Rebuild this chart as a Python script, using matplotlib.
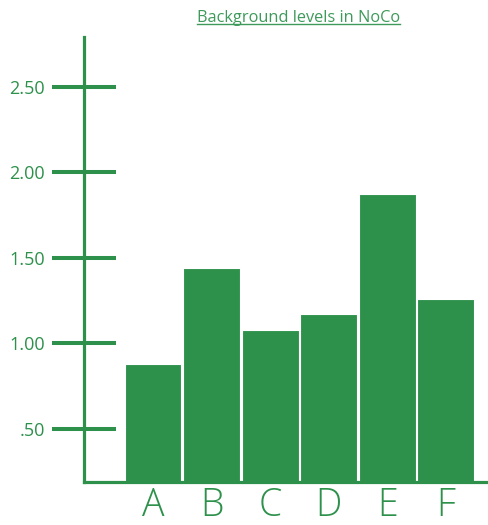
import matplotlib.pyplot as plt
from matplotlib.lines import Line2D

# data
categories = ["A", "B", "C", "D", "E", "F"]
levels = [0.88, 1.44, 1.08, 1.17, 1.87, 1.26]
ytick_values = [0.5, 1.0, 1.5, 2.0, 2.5]
ytick_labels = [".50", "1.00", "1.50", "2.00", "2.50"]

green = "#2d914b"
plt.rcParams["font.family"] = ["Open Sans", "DejaVu Sans"]

fig = plt.figure(figsize=(4.88, 5.25), dpi=100)
ax = fig.add_axes([84 / 488, 1 - 482 / 525, 1 - 84 / 488, (482 - 37) / 525])

x = range(len(categories))
ax.bar(x, levels, width=0.97, color=green, edgecolor="white", linewidth=0.8, zorder=2)

ax.set_xlim(-1.18, 5.72)
ax.set_ylim(0.19, 2.79)

for side in ["top", "right"]:
    ax.spines[side].set_visible(False)
for side in ["left", "bottom"]:
    ax.spines[side].set_color(green)
    ax.spines[side].set_linewidth(2.3)
    ax.spines[side].set_zorder(3)

ax.set_xticks(list(x))
ax.set_xticklabels(categories, fontsize=27, color=green, fontweight="light")
ax.tick_params(axis="x", length=0, pad=3)

ax.set_yticks(ytick_values)
ax.set_yticklabels(ytick_labels, fontsize=13, color=green)
ax.tick_params(axis="y", direction="inout", length=46, width=2.9, color=green, pad=5)

# underlined title
title = fig.text(0.611, 1 - 18 / 525, "Background levels in NoCo", ha="center", va="center",
                 fontsize=11.8, color="#3d9a5a")
fig.canvas.draw()
bb = title.get_window_extent().transformed(fig.transFigure.inverted())
fig.add_artist(Line2D([bb.x0, bb.x1], [bb.y0 + 0.004, bb.y0 + 0.004], color="#3d9a5a",
                      linewidth=1.0, transform=fig.transFigure))

fig.savefig("out.png", dpi=100)
